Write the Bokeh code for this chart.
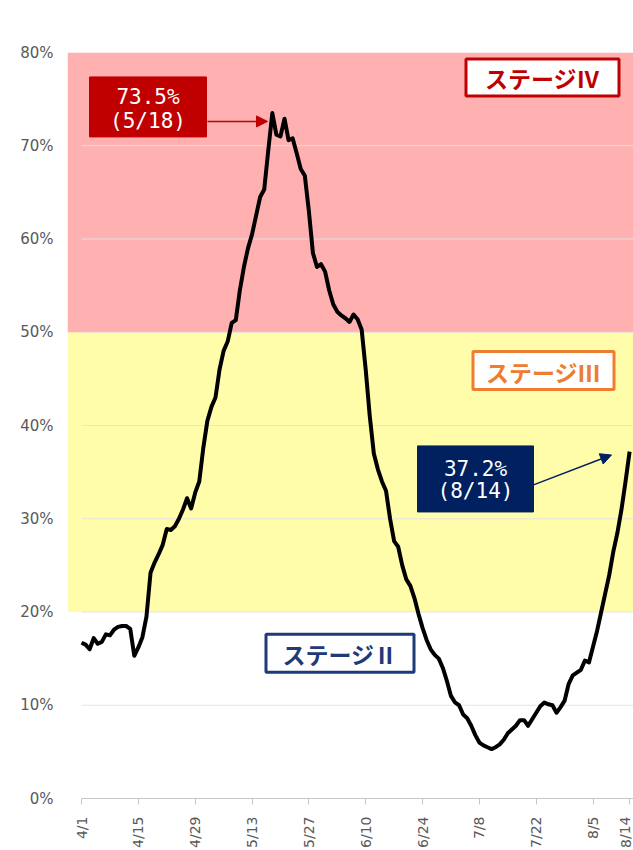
import pandas as pd
from bokeh.plotting import figure
from bokeh.models import Range1d, FixedTicker, Arrow, NormalHead
from bokeh.core.properties import value
from bokeh.embed import file_html
from bokeh.resources import INLINE

# ---------------- data ----------------
start_date = "2021-04-01"
rate = [
    16.7, 16.5, 16.0, 17.2, 16.6, 16.8, 17.6, 17.5, 18.1, 18.4,
    18.5, 18.5, 18.2, 15.3, 16.2, 17.3, 19.5, 24.2, 25.3, 26.2,
    27.2, 28.9, 28.8, 29.2, 30.0, 31.0, 32.2, 31.1, 32.8, 34.0,
    37.6, 40.5, 42.0, 43.0, 46.0, 48.0, 49.0, 51.0, 51.3, 54.5,
    57.0, 59.0, 60.5, 62.5, 64.5, 65.3, 69.5, 73.5, 71.2, 71.0,
    72.9, 70.6, 70.8, 69.2, 67.5, 66.8, 63.0, 58.5, 57.0, 57.3,
    56.5, 54.5, 53.0, 52.2, 51.8, 51.5, 51.1, 51.9, 51.4, 50.3,
    46.0, 41.0, 37.0, 35.3, 34.0, 33.0, 30.0, 27.6, 27.0, 25.0,
    23.5, 22.8, 21.5, 19.8, 18.3, 17.0, 16.0, 15.4, 15.0, 14.0,
    12.6, 11.0, 10.3, 10.0, 9.0, 8.6, 7.8, 6.8, 6.0, 5.7,
    5.5, 5.3, 5.5, 5.8, 6.3, 7.0, 7.4, 7.8, 8.4, 8.4,
    7.8, 8.5, 9.2, 9.9, 10.3, 10.1, 10.0, 9.2, 9.8, 10.5,
    12.3, 13.2, 13.5, 13.8, 14.8, 14.6, 16.3, 18.0, 20.0, 22.0,
    24.0, 26.5, 28.5, 31.0, 34.0, 37.2,
]
dates = pd.date_range(start_date, periods=len(rate), freq="D")
days = list(range(len(rate)))

tick_days = [0, 14, 28, 42, 56, 70, 84, 98, 112, 126, 135]
tick_labels = ["4/1", "4/15", "4/29", "5/13", "5/27", "6/10",
               "6/24", "7/8", "7/22", "8/5", "8/14"]
y_ticks = [0, 10, 20, 30, 40, 50, 60, 70, 80]

stage_bottoms = [20, 50]
stage_tops = [50, 80]
stage_fill = ["#FFFCAA", "#FFB1B1"]
stage_names = ["ステージⅡ", "ステージⅢ", "ステージⅣ"]
stage_colors = ["#1F3A78", "#ED7D31", "#C00000"]

# ---------------- layout helpers (page pixels -> data) ----------------
FL, FR, FT, FB = 67, 633, 52, 799
X_START, X_END = -3.45, 135.96
Y_START, Y_END = 0, 80


def dx(px):
    return X_START + (px - FL) / (FR - FL) * (X_END - X_START)


def dy(py):
    return Y_START + (FB - py) / (FB - FT) * (Y_END - Y_START)


p = figure(width=633, height=850, output_backend="svg", toolbar_location=None,
           x_range=Range1d(X_START, X_END), y_range=Range1d(Y_START, Y_END),
           min_border_left=FL, min_border_right=0,
           min_border_top=FT, min_border_bottom=850 - FB)
p.outline_line_color = None
p.xgrid.grid_line_color = None
p.ygrid.grid_line_color = None
p.background_fill_color = "white"
p.border_fill_color = "white"

# bands
p.quad(left=X_START, right=X_END, bottom=stage_bottoms, top=stage_tops,
       fill_color=stage_fill, line_color=None)

# gridlines
p.segment(x0=0, x1=X_END, y0=y_ticks[1:-1], y1=y_ticks[1:-1],
          line_color="#E2E2E2", line_width=1, line_alpha=0.9)

# stage boxes
stage_boxes = [  # (cx, cy, w, h) page px
    (339.5, 653.5, 148, 38),
    (543, 370.5, 141, 38),
    (542, 77, 153, 37),
]
for (cx, cy, w, h), name, col in zip(stage_boxes, stage_names, stage_colors):
    p.rect(x=[dx(cx)], y=[dy(cy)], width=w, height=h,
           width_units="screen", height_units="screen",
           fill_color="white", line_color=col, line_width=3)
    p.text(x=[dx(cx)], y=[dy(cy + 1)], text=[name], text_color=col,
           text_font=value("Noto Sans CJK JP"), text_font_style="bold",
           text_font_size="23px", text_align="center", text_baseline="middle")

# main line
p.line(days, rate, line_color="black", line_width=4, line_join="round")

# value callouts
peak_i = max(range(len(rate)), key=lambda i: rate[i])
last_i = len(rate) - 1


def md(ts):
    return f"({ts.month}/{ts.day})"


callouts = [
    # box (cx, cy, w, h), line centers, color, arrow start, arrow end (page px)
    (peak_i, (147.5, 106.5, 117, 60), (97, 121), "#C00000", (207, 121), (267, 121)),
    (last_i, (475, 479, 116, 66), (469, 491), "#002060", (533, 485), (611, 455)),
]
for idx, (cx, cy, w, h), (l1, l2), col, a0, a1 in callouts:
    p.rect(x=[dx(cx)], y=[dy(cy)], width=w, height=h,
           width_units="screen", height_units="screen",
           fill_color=col, line_color=col)
    p.text(x=[dx(cx), dx(cx)], y=[dy(l1), dy(l2)],
           text=[f"{rate[idx]:.1f}%", md(dates[idx])], text_color="white",
           text_font=value("DejaVu Sans Mono"), text_font_size="21px",
           text_align="center", text_baseline="middle")
    p.add_layout(Arrow(end=NormalHead(size=11, fill_color=col, line_color=col),
                       x_start=dx(a0[0]), y_start=dy(a0[1]),
                       x_end=dx(a1[0]), y_end=dy(a1[1]),
                       line_color=col, line_width=1.5))

# axes
p.xaxis.ticker = FixedTicker(ticks=tick_days)
p.xaxis.major_label_overrides = {d: l for d, l in zip(tick_days, tick_labels)}
p.xaxis.major_label_orientation = 1.5708
p.xaxis.bounds = (0, X_END)
p.xaxis.axis_line_color = "#C8C8C8"
p.xaxis.major_tick_line_color = "#C8C8C8"
p.xaxis.major_tick_in = 0
p.xaxis.major_tick_out = 6
p.xaxis.minor_tick_line_color = None
p.xaxis.major_label_standoff = 12
p.xaxis.major_label_text_font = "DejaVu Sans"
p.xaxis.major_label_text_font_size = "14px"
p.xaxis.major_label_text_color = "#595959"

p.yaxis.ticker = FixedTicker(ticks=y_ticks)
p.yaxis.major_label_overrides = {v: f"{v}%" for v in y_ticks}
p.yaxis.axis_line_color = None
p.yaxis.major_tick_line_color = None
p.yaxis.minor_tick_line_color = None
p.yaxis.major_label_standoff = 8
p.yaxis.major_label_text_font = "DejaVu Sans"
p.yaxis.major_label_text_font_size = "15px"
p.yaxis.major_label_text_color = "#595959"

open("out.html", "w").write(file_html(p, INLINE))
